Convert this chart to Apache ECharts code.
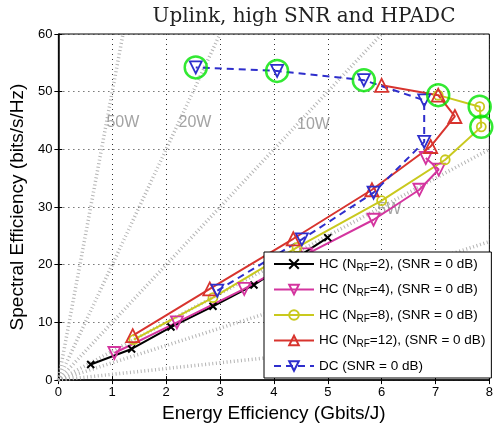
<!DOCTYPE html>
<html><head><meta charset="utf-8">
<script src="https://cdn.jsdelivr.net/npm/echarts@6/dist/echarts.min.js"></script>
<style>html,body{margin:0;padding:0;background:#fff}#c{width:496px;height:428px}</style>
</head><body><div id="c"></div>
<script>
// ---- data ----
const xTickLabels = ['0','1','2','3','4','5','6','7','8'];
const yTickLabels = ['0','10','20','30','40','50','60'];
const hc2EE  = [0.60, 1.36, 2.09, 2.87, 3.63, 4.30, 5.00];
const hc2SE  = [2.7, 5.4, 9.2, 12.8, 16.5, 20.5, 24.7];
const hc4EE  = [1.04, 2.20, 3.45, 4.60, 5.85, 6.70, 7.06, 6.82];
const hc4SE  = [4.7, 10.0, 15.8, 21.8, 27.8, 33.0, 36.5, 38.5];
const hc8EE  = [1.40, 2.87, 4.43, 6.00, 7.18, 7.85, 7.82, 7.05];
const hc8SE  = [7.0, 14.3, 23.0, 31.1, 38.2, 43.9, 47.4, 49.4];
const hc12EE = [1.38, 2.81, 4.36, 5.82, 6.91, 7.36, 7.05, 6.00];
const hc12SE = [7.7, 15.8, 24.5, 33.0, 40.5, 45.7, 49.4, 51.1];
const dcEE   = [2.95, 4.52, 5.85, 6.79, 6.79, 5.67, 4.06, 2.55];
const dcSE   = [15.5, 24.4, 32.5, 41.3, 48.5, 52.0, 53.6, 54.2];
const optEE  = [2.55, 4.06, 5.67, 7.05, 7.82, 7.85];
const optSE  = [54.2, 53.6, 52.0, 49.4, 47.4, 43.9];
const isoPowers = [50, 20, 10, 5, 3, 1];          // W (lines SE = P * EE)
const isoLabelText = ['50W', '20W', '10W', '5W'];
const isoLabelSE = [44.6, 44.6, 44.3, 29.6];
const legendNames = ['HC2', 'HC4', 'HC8', 'HC12', 'DC'];
const legendText = {
  HC2: '{t|HC (N}{s|RF}{t|=2), (SNR = 0 dB)}',
  HC4: '{t|HC (N}{s|RF}{t|=4), (SNR = 0 dB)}',
  HC8: '{t|HC (N}{s|RF}{t|=8), (SNR = 0 dB)}',
  HC12: '{t|HC (N}{s|RF}{t|=12), (SNR = 0 dB)}',
  DC: '{t|DC (SNR = 0 dB)}'
};

const XMAX = 8, YMAX = 60;
const zip = (a, b) => a.map((v, i) => [v, b[i]]);
const FONT = 'Liberation Sans';

const isoSeries = isoPowers.map(p => {
  const xe = Math.min(XMAX, YMAX / p);
  return {
    type: 'line', silent: true, symbol: 'none', z: 1,
    data: [[0, 0], [xe, p * xe]],
    lineStyle: { color: '#b4b4b4', width: 3.5, type: [1, 2.6] },
    xAxisIndex: 0, yAxisIndex: 0
  };
});
const isoLabelSeries = {
  type: 'scatter', silent: true, symbolSize: 0, z: 2,
  data: isoLabelText.map((t, i) => [isoLabelSE[i] / isoPowers[i], isoLabelSE[i], t]),
  label: { show: true, position: 'right', distance: 0, formatter: p => p.data[2],
           color: '#8c8c8c', fontSize: 16, fontFamily: FONT }
};

function mk(name, ee, se, color, symbol, size, extra) {
  return Object.assign({
    name, type: 'line', data: zip(ee, se), z: 5,
    symbol, symbolSize: size,
    lineStyle: { color, width: 2 },
    itemStyle: { color: 'rgba(255,255,255,0)', borderColor: color, borderWidth: 1.8 },
    emphasis: { disabled: true }
  }, extra || {});
}

const option = {
  animation: false,
  backgroundColor: '#fff',
  title: {
    text: 'Uplink, high SNR and HPADC', left: 299, top: 2, textAlign: 'center',
    textStyle: { fontFamily: 'DejaVu Serif', fontWeight: 'normal', fontSize: 20, color: '#222' }
  },
  grid: { left: 53, right: 3, top: 34, bottom: 47, show: true, borderColor: '#000', borderWidth: 1 },
  xAxis: [{
    type: 'value', min: 0, max: 8, interval: 1,
    name: 'Energy Efficiency (Gbits/J)', nameLocation: 'middle', nameGap: 22,
    nameTextStyle: { fontFamily: FONT, fontSize: 19, color: '#000' },
    axisLine: { lineStyle: { color: '#000', width: 1.5 } },
    axisTick: { inside: true, length: 4, lineStyle: { color: '#000' } },
    axisLabel: { margin: 6, fontFamily: FONT, fontSize: 13, color: '#000',
                 formatter: v => xTickLabels[Math.round(v)] },
    splitLine: { show: true, lineStyle: { color: '#333', type: [1, 4], width: 1 } }
  }, {
    type: 'value', min: 0, max: 8, interval: 1, position: 'top',
    axisLine: { show: false }, axisLabel: { show: false }, splitLine: { show: false },
    axisTick: { inside: true, length: 4, lineStyle: { color: '#000' } }
  }],
  yAxis: [{
    type: 'value', min: 0, max: 60, interval: 10,
    name: 'Spectral Efficiency (bits/s/Hz)', nameLocation: 'middle', nameGap: 29,
    nameTextStyle: { fontFamily: FONT, fontSize: 19, color: '#000' },
    axisLine: { show: true, lineStyle: { color: '#000', width: 1.5 } },
    axisTick: { show: true, inside: true, length: 4, lineStyle: { color: '#000' } },
    axisLabel: { margin: 6, fontFamily: FONT, fontSize: 13, color: '#000',
                 formatter: v => yTickLabels[Math.round(v / 10)] },
    splitLine: { show: true, lineStyle: { color: '#333', type: [1, 4], width: 1 } }
  }, {
    type: 'value', min: 0, max: 60, interval: 10, position: 'right',
    axisLine: { show: false }, axisLabel: { show: false }, splitLine: { show: false },
    axisTick: { show: true, inside: true, length: 4, lineStyle: { color: '#000' } }
  }],
  legend: {
    data: legendNames, orient: 'vertical', left: 264, top: 252, z: 30,
    backgroundColor: '#fff', borderColor: '#000', borderWidth: 1,
    padding: [5, 6, 5, 9], itemGap: 9.5, itemWidth: 40, itemHeight: 12, itemTextGap: 5,
    selectedMode: false,
    formatter: n => legendText[n],
    textStyle: { fontFamily: FONT, fontSize: 13.5, color: '#000',
      rich: { t: { fontFamily: FONT, fontSize: 13.5, color: '#000' },
              s: { fontFamily: FONT, fontSize: 10, color: '#000', padding: [8, 0, 0, 0] } } }
  },
  series: [
    ...isoSeries,
    isoLabelSeries,
    mk('HC2', hc2EE, hc2SE, '#000000', 'path://M0,0L10,10M10,0L0,10', 7,
       { itemStyle: { color: '#000', borderColor: '#000', borderWidth: 2 } }),
    mk('HC4', hc4EE, hc4SE, '#D4359F', 'triangle', 12, { symbolRotate: 180 }),
    mk('HC8', hc8EE, hc8SE, '#C9C91E', 'circle', 9),
    mk('HC12', hc12EE, hc12SE, '#D8342E', 'triangle', 13),
    mk('DC', dcEE, dcSE, '#2E2ECC', 'triangle', 12,
       { symbolRotate: 180, lineStyle: { color: '#2E2ECC', width: 2, type: [7, 5] } }),
    { name: 'opt', type: 'scatter', data: zip(optEE, optSE), symbol: 'circle', symbolSize: 22, z: 10,
      itemStyle: { color: 'rgba(255,255,255,0)', borderColor: '#00E400', borderWidth: 2.5 },
      emphasis: { disabled: true } }
  ]
};
echarts.init(document.getElementById('c')).setOption(option);
</script></body></html>
